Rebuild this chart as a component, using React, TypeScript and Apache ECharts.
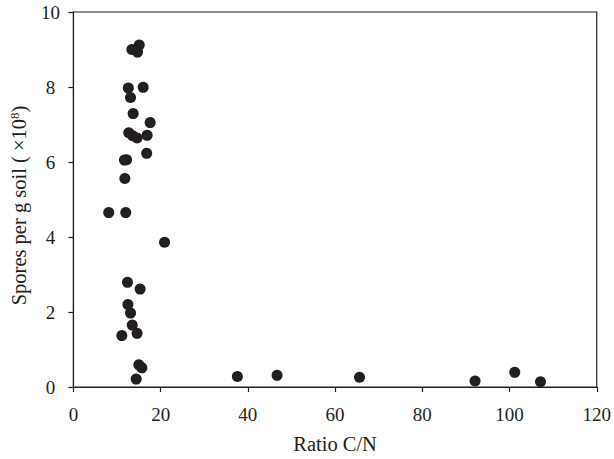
import React, { useEffect, useRef } from "react";
import * as echarts from "echarts";

const cnRatio = [15.1, 13.4, 14.7, 12.6, 16.0, 13.1, 13.7, 17.6, 12.7, 13.6, 14.6, 16.9, 16.8, 12.2, 11.7, 11.8, 8.1, 12.0, 20.9, 12.4, 15.3, 12.5, 13.1, 13.5, 14.6, 11.1, 15.0, 15.7, 14.4, 37.6, 46.7, 65.6, 92.1, 101.2, 107.1];
const spores = [9.12, 9.0, 8.93, 7.97, 7.99, 7.72, 7.29, 7.05, 6.78, 6.7, 6.64, 6.71, 6.23, 6.06, 6.05, 5.56, 4.65, 4.65, 3.86, 2.79, 2.61, 2.2, 1.97, 1.65, 1.43, 1.37, 0.59, 0.51, 0.21, 0.28, 0.31, 0.26, 0.16, 0.39, 0.14];
const xTitle = "Ratio C/N";
const yTitle = "Spores per g soil ( ×10{sup|8})";

const ink = "#231f20";
const font = "'Liberation Serif', 'Times New Roman', serif";

export default function App() {
  const ref = useRef<HTMLDivElement>(null);
  useEffect(() => {
    if (!ref.current) return;
    const chart = echarts.init(ref.current, null, { renderer: "svg" });
    const points = cnRatio.map((x, i) => [x, spores[i]]);
    chart.setOption({
      animation: false,
      backgroundColor: "#ffffff",
      grid: {
        left: 73,
        right: 17,
        top: 12,
        bottom: 70,
        show: true,
        borderColor: ink,
        borderWidth: 1.2,
        backgroundColor: "transparent",
      },
      xAxis: {
        type: "value",
        min: 0,
        max: 120,
        interval: 20,
        name: xTitle,
        nameLocation: "middle",
        nameGap: 46,
        nameTextStyle: { fontFamily: font, fontSize: 20.5, color: ink },
        axisLine: { show: true, lineStyle: { color: ink, width: 1.2 } },
        axisTick: { show: true, inside: false, length: 5, lineStyle: { color: ink, width: 1.2 } },
        axisLabel: { fontFamily: font, fontSize: 19, color: ink, margin: 18 },
        splitLine: { show: false },
      },
      yAxis: {
        type: "value",
        min: 0,
        max: 10,
        interval: 2,
        name: yTitle,
        nameLocation: "middle",
        nameGap: 43,
        nameTextStyle: {
          fontFamily: font,
          fontSize: 20.5,
          color: ink,
          lineHeight: 22,
          padding: [0, 12, 0, 0],
          rich: {
            sup: {
              fontFamily: font,
              fontSize: 13,
              color: ink,
              verticalAlign: "top",
              lineHeight: 22,
            },
          },
        },
        axisLine: { show: true, lineStyle: { color: ink, width: 1.2 } },
        axisTick: { show: true, inside: false, length: 5, lineStyle: { color: ink, width: 1.2 } },
        axisLabel: { fontFamily: font, fontSize: 19, color: ink, margin: 23, align: "center" },
        splitLine: { show: false },
      },
      series: [
        {
          type: "scatter",
          data: points,
          symbol: "circle",
          symbolSize: 11,
          itemStyle: { color: ink, opacity: 1 },
        },
      ],
    });
    return () => chart.dispose();
  }, []);
  return (
    <div
      ref={ref}
      style={{ position: "fixed", left: 0, top: 0, width: 614, height: 459 }}
    />
  );
}
